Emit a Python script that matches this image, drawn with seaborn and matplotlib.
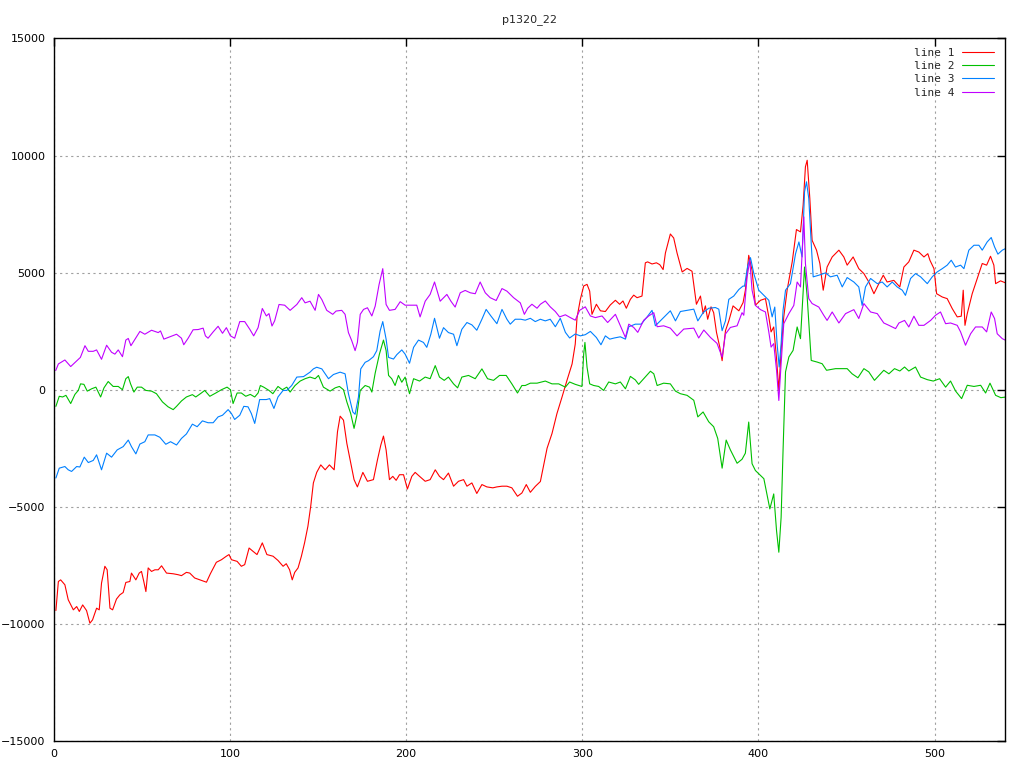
import matplotlib
matplotlib.use("Agg")
import matplotlib.pyplot as plt
import seaborn as sns

# line 1 (red)
x1 = [1.1, 2.5, 3.8, 6.2, 8.1, 11, 12.9, 14.4, 16.3, 18.5, 20.4, 21.9, 24.2, 25.7, 27, 28.9, 30.2, 31.8,
      33.3, 35.5, 37.4, 39.3, 40.8, 43.1, 44, 46.5, 48.4, 49.7, 51, 52.2, 53.5, 55.4, 57.3, 59.2, 61.1,
      63.9, 67.7, 70.5, 72.4, 75.2, 77.1, 79.9, 82.8, 86.6, 88.8, 92.2, 95.1, 97.9, 99.4, 100.8, 104,
      106.4, 108.3, 110.8, 113, 115.3, 118.3, 120.9, 124.4, 127.2, 130.1, 131.9, 133.8, 135.3, 136.7,
      138.6, 140.5, 142.3, 144.2, 145.8, 147.3, 149.2, 151.5, 154, 156.4, 159.1, 161, 162.5, 164.4,
      166.3, 168.5, 170.4, 172.3, 175.4, 178, 181.4, 183.7, 185.6, 187.1, 188.6, 190.5, 192.4, 194.3,
      196.2, 198.5, 200.7, 203.2, 205.1, 207.6, 210.8, 213.6, 216.5, 218.9, 221.2, 224, 226.9, 229.7,
      232.6, 234.5, 237.3, 240.1, 243, 245.8, 249.2, 251.5, 254.4, 257.2, 260, 263.2, 265.7, 268.2,
      270.5, 273.3, 276.2, 278.1, 280, 282.8, 285.6, 288.5, 291.3, 294.2, 296, 297, 298.9, 300.8,
      302.7, 304.2, 305.5, 308, 310.3, 313.1, 315.9, 318.8, 321.2, 323.1, 325, 327.3, 329.2, 331.1,
      333.9, 335.8, 337.1, 339.6, 342.1, 344, 345.9, 347.2, 350, 351.9, 353.8, 356.7, 359.5, 362.3,
      364.8, 367.1, 368.6, 369.9, 371.2, 373.1, 374.6, 376.2, 378.1, 379.4, 381.3, 383.2, 385.6,
      388.9, 391.3, 392.6, 394.5, 396.4, 398.3, 401.2, 404, 405.9, 407.2, 408.7, 410.3, 411.6, 412.9,
      414.4, 416.3, 419.2, 421.6, 423.9, 425.4, 426.7, 427.7, 429.2, 430.5, 433, 434.9, 436.8, 439,
      441.9, 445.7, 448.5, 450.4, 453.8, 457, 459.9, 462.7, 465.6, 468.4, 470.9, 473.1, 476.9, 480.3,
      482.6, 485.4, 488.3, 491.1, 494, 496.2, 497.4, 499.7, 501.2, 504.4, 507.2, 510.1, 512.9, 515.2,
      516.3, 517.3, 518.6, 521.4, 524.3, 527.1, 529.6, 531.8, 533.7, 534.7, 537.5, 540.4]
y1 = [-9430, -8190, -8120, -8330, -8970, -9400, -9260, -9470, -9190, -9430, -9970, -9830, -9330, -9400,
      -8260, -7540, -7690, -9330, -9400, -8940, -8760, -8660, -8230, -8190, -7830, -8120, -7830, -7760,
      -8190, -8620, -7610, -7760, -7690, -7690, -7520, -7830, -7860, -7900, -7940, -7800, -7830, -8040,
      -8120, -8220, -7860, -7370, -7260, -7110, -7040, -7260, -7330, -7540, -7470, -6760, -6900, -7040,
      -6540, -7040, -7110, -7290, -7540, -7430, -7690, -8120, -7800, -7610, -7110, -6540, -5830, -4970,
      -3980, -3530, -3210, -3420, -3210, -3420, -1790, -1130, -1300, -2290, -3130, -3840, -4150, -3530,
      -3910, -3840, -2990, -2360, -1980, -2570, -3840, -3700, -3870, -3630, -3630, -4240, -3700, -3530,
      -3700, -3910, -3840, -3420, -3700, -3840, -3560, -4120, -3910, -3840, -4120, -3980, -4430, -4050,
      -4150, -4190, -4150, -4120, -4120, -4190, -4550, -4410, -4050, -4380, -4130, -3920, -3210, -2500,
      -1870, -1020, -310, 400, 1100, 1950, 3080, 3860, 4430, 4500, 4210, 3220, 3650, 3370, 3340, 3620,
      3820, 3650, 3790, 3480, 3860, 4040, 3930, 4000, 5420, 5460, 5370, 5420, 5340, 5130, 5840, 6650,
      6480, 5840, 5030, 5180, 5060, 3650, 4000, 3250, 3580, 3010, 3540, 3290, 2450, 1810, 1240, 2520,
      2940, 3580, 3370, 3720, 4250, 5740, 5100, 3610, 3820, 3890, 3110, 2470, 2680, 1330, -30, 1680,
      3110, 4250, 5460, 6840, 6740, 7880, 9520, 9800, 8170, 6380, 5960, 5390, 4250, 5240, 5670, 5960,
      5670, 5320, 5670, 5170, 4960, 4600, 4100, 4530, 4890, 4600, 4670, 4390, 5240, 5460, 5960, 5880,
      5670, 5810, 5530, 5170, 4100, 3960, 3890, 3460, 3110, 3140, 4250, 2750, 3250, 4100, 4750, 5390,
      5320, 5700, 5320, 4530, 4650, 4560]

# line 2 (green)
x2 = [1.1, 3, 4.9, 6.8, 9.5, 11.9, 13.8, 15.1, 17, 18.9, 21.4, 23.8, 26.5, 28.4, 30.8, 33.6, 36.5, 38.9,
      40.8, 42.2, 43.5, 45.4, 47.3, 49.7, 52.2, 55.4, 58.2, 61.6, 64.8, 67.7, 69.6, 72.4, 75.2, 78.6,
      80.5, 83.7, 85.6, 88.5, 91.9, 95.1, 98.3, 100.2, 101.7, 104, 106.4, 108.9, 111.5, 114, 115.9,
      117.2, 119.1, 122.1, 124.3, 127.2, 129.7, 132.2, 134.1, 136.9, 139.8, 142.6, 145.4, 148.3, 150.2,
      153, 156.8, 159.7, 162.1, 164.4, 166.3, 168.5, 170.4, 172, 173.9, 176.7, 179.2, 180.5, 182.4,
      184.8, 187.1, 188.6, 190, 191.8, 193.7, 195.6, 197.5, 199.4, 201.9, 204.2, 207.6, 210.8, 213.6,
      216.5, 218.9, 221.6, 224, 226.9, 229.2, 231.6, 235.4, 239.2, 243, 246.2, 249.6, 253, 256.8, 260,
      263.2, 265.7, 267.6, 270.5, 274.3, 279, 282.8, 286.6, 290.4, 292.8, 296, 299.8, 300.8, 301.5,
      302.7, 304.2, 306.5, 309.3, 312.1, 315, 318.8, 321.6, 324.5, 327.3, 330.1, 332, 334.9, 338.7,
      340.6, 342.5, 346.2, 350, 352.9, 355.7, 359.5, 363.3, 365.6, 368.6, 371.8, 374.6, 376.9, 379.4,
      381.7, 384.1, 387.9, 390.7, 392.6, 394.5, 396.4, 398.3, 403.1, 406.5, 408.7, 410.3, 411.6, 412.9,
      414, 415.4, 417.3, 419.7, 422, 423.9, 426.2, 427.7, 430, 433.4, 436.2, 438.7, 443.8, 450.4,
      453.2, 456.5, 459.9, 462.7, 465.9, 471.2, 474.1, 477.3, 480.3, 483, 485.4, 489.2, 492.1, 495.9,
      499.3, 502.9, 506.3, 509.1, 512, 515.4, 518.6, 522.4, 526.2, 529, 531.5, 534.7, 537.7, 540.6]
y2 = [-710, -280, -310, -240, -590, -200, -30, 250, 230, -60, 40, 110, -310, 80, 350, 140, 140, 0, 470,
      560, 250, -100, 110, 110, -30, -60, -170, -520, -730, -850, -710, -480, -310, -210, -310, -140,
      -30, -280, -140, 0, 110, 0, -590, -140, -140, -280, -200, -310, -140, 180, 110, -30, -170, 140, 0,
      110, -100, 180, 370, 470, 540, 470, 610, 110, -60, 80, 140, 0, -520, -1020, -1650, -1090, -30,
      180, 110, -100, 710, 1520, 2120, 1670, 610, 470, 180, 610, 320, 540, -170, 470, 370, 540, 470,
      1030, 540, 400, 540, 250, 80, 540, 610, 470, 890, 470, 400, 610, 610, 250, -140, 180, 180, 280,
      280, 370, 250, 250, 110, 330, 230, 140, 1530, 2020, 960, 250, 180, 140, -30, 330, 250, 330, 40,
      570, 420, 230, 470, 790, 680, 180, 280, 250, -60, -170, -240, -450, -1160, -950, -1370, -1580,
      -2080, -3350, -2150, -2570, -3140, -2970, -2710, -1380, -3160, -3450, -3800, -5090, -4450, -6020,
      -6940, -5450, -2590, 760, 1400, 1680, 2680, 2180, 5240, 3960, 1250, 1180, 1110, 830, 900, 900,
      680, 510, 900, 760, 400, 830, 680, 900, 800, 970, 800, 970, 540, 430, 370, 470, 110, 370, -60,
      -380, 190, 140, 190, -140, 280, -240, -340, -310]

# line 3 (blue)
x3 = [1.1, 3, 6.2, 8.1, 10, 12.9, 14.7, 17.2, 19.5, 22.3, 24.2, 27, 29.9, 32.7, 35.9, 39.3, 42.2, 44,
      46.5, 48.8, 51.6, 53.5, 57.3, 60.1, 63.5, 66.2, 69.6, 72.4, 75.2, 78.6, 81.3, 84.3, 87.5, 90.4,
      93.2, 95.7, 98.9, 100.8, 102.6, 105.5, 107.8, 110.2, 112.1, 114, 116.8, 120.6, 122.5, 124.9, 127.2,
      130.1, 132.2, 135, 137.9, 141.7, 145.4, 147.3, 149.2, 152.1, 155.9, 158.7, 162.5, 165.3, 167.2,
      169.7, 171, 172.9, 174.2, 176.7, 178.6, 181.4, 183.3, 185.2, 186.7, 188.6, 190, 192.8, 194.7,
      197.5, 199.4, 201.9, 204.2, 207, 209.8, 211.7, 214, 216.1, 218.9, 221.2, 224, 226.9, 228.8, 231.6,
      234.5, 237.3, 240.1, 243, 245.4, 248.1, 251.5, 254.4, 257.2, 259.1, 261.9, 265.1, 267.6, 270.5,
      273.3, 276.2, 279, 281.8, 284.7, 287.5, 290.4, 292.8, 296, 298.9, 301.7, 304.6, 308, 310.6, 313.1,
      315.6, 318.2, 321.6, 324.5, 326.4, 330.1, 333.4, 336.8, 339.6, 341.5, 344.3, 347.8, 350, 352.9,
      355.7, 359.5, 363.3, 365.6, 368.6, 371.8, 375.6, 377.5, 379.4, 381.3, 383.2, 386, 388.9, 391.3,
      392.1, 394, 395.5, 397.4, 400.2, 403.1, 405.9, 407.8, 409.3, 410.6, 411.8, 412.9, 414, 415.4,
      418.2, 421.1, 423, 424.8, 426.2, 427.3, 428.6, 430, 431.1, 434.3, 438.1, 440.9, 444.7, 447.6,
      450.4, 454.2, 457, 458.9, 460.8, 463.7, 467.5, 470.3, 473.1, 476, 478.8, 481.7, 483.5, 486.4,
      489.2, 492.1, 495.9, 498.7, 501.5, 504.4, 507.2, 509.5, 511.9, 514.8, 516.7, 519.5, 522.4, 525.2,
      527.1, 529.9, 532.2, 534.1, 536, 538.5, 540.4]
y3 = [-3770, -3350, -3280, -3420, -3490, -3280, -3300, -2880, -3110, -3020, -2780, -3420, -2710, -2880,
      -2570, -2430, -2150, -2430, -2740, -2320, -2220, -1930, -1930, -2030, -2330, -2220, -2360, -2080,
      -1890, -1470, -1580, -1330, -1410, -1410, -1160, -1090, -850, -1020, -1270, -1090, -710, -730,
      -1020, -1440, -420, -420, -380, -800, -310, -30, -30, 180, 540, 560, 750, 890, 960, 890, 470, 650,
      750, 680, -170, -950, -1050, -310, 890, 1170, 1240, 1410, 1670, 2510, 2910, 2160, 1380, 1310,
      1500, 1700, 1520, 1130, 1810, 2120, 2020, 1810, 2370, 3050, 2200, 2650, 2440, 2370, 1880, 2580,
      2870, 2770, 2540, 3010, 3430, 3150, 2820, 3430, 3010, 2800, 3010, 3010, 2970, 3050, 2910, 3010,
      2940, 3010, 2690, 3050, 2450, 2210, 2380, 2300, 2350, 2490, 2230, 1920, 2300, 2160, 2210, 2260,
      2160, 2690, 2800, 2800, 3110, 3390, 2730, 2940, 3200, 3370, 2940, 3340, 3390, 3440, 2940, 3290,
      3480, 3510, 3440, 2520, 2940, 3860, 4000, 4280, 4430, 4420, 5320, 5640, 4960, 4250, 4030, 3820,
      3110, 3530, 1970, 970, 1970, 3390, 4250, 4530, 5810, 6310, 5670, 8450, 8880, 8170, 6240, 4820,
      4890, 4990, 4820, 4890, 4390, 4790, 4600, 4390, 3600, 4390, 4750, 4530, 4600, 4390, 4600, 4390,
      4250, 4030, 4750, 4960, 4820, 4530, 4820, 5030, 5170, 5320, 5530, 5240, 5320, 5170, 5960, 6170,
      6170, 5960, 6310, 6500, 6100, 5790, 5960, 6030]

# line 4 (purple)
x4 = [1, 2.5, 6.2, 9.5, 13, 15, 17.6, 19.5, 22.3, 24.2, 27, 29.9, 32.7, 34.6, 36.5, 38.9, 40.8, 42.2,
      43.7, 46.9, 48.8, 51.6, 55.4, 59.2, 60.5, 62.4, 65.8, 69.6, 72.4, 73.7, 76.2, 79, 81.9, 84.7, 86,
      87.5, 90.4, 93.2, 95.7, 97.9, 100.2, 102.6, 105.5, 108.3, 111.2, 113.4, 115.9, 118.3, 120.6, 122.1,
      123.8, 125.3, 127.8, 131, 134.1, 137.9, 140.7, 142.6, 145.4, 148.3, 150.2, 152.1, 154.9, 158.3,
      160.2, 163.4, 165.3, 167.2, 169.1, 171, 172.3, 173.9, 175.8, 178, 180.5, 182.4, 184.6, 186.7,
      188.6, 190.5, 193.7, 196.6, 199.4, 202.3, 206, 207.9, 210.8, 213.6, 216.1, 219.3, 223.1, 225.4,
      227.8, 230.7, 233.5, 236.4, 239.2, 242, 244.9, 247.7, 251.1, 254.4, 257.2, 261, 264.8, 267.1,
      269, 271.4, 274.3, 276.2, 279, 281.8, 284.7, 287.1, 290.4, 293.2, 296, 298.5, 301.7, 304.6, 307.4,
      311.2, 314.4, 318.8, 321.6, 324.5, 326.4, 329.2, 331.5, 334.9, 337.7, 340.6, 342.5, 346.2, 350,
      353.8, 357.6, 363.3, 366.1, 369, 372.8, 376.5, 379.4, 381.3, 384.1, 387.9, 390.7, 391.7, 393.6,
      395.1, 396.4, 398.3, 401.2, 404, 405.9, 407.2, 408.7, 410.3, 411.6, 412.9, 414.4, 417.3, 420.1,
      422, 423.9, 425.8, 426.7, 428.6, 430.5, 434.3, 437.1, 439, 441.9, 445.7, 449.5, 454.2, 457, 459.9,
      463.7, 467.5, 471.2, 474.1, 477.9, 479.8, 483, 485.4, 488.3, 491.1, 494, 497.8, 500.6, 503.4,
      506.3, 509.1, 512.9, 514.8, 517.6, 520.5, 523.3, 527.1, 529.6, 532.2, 534.1, 535.6, 538.5, 540.4]
y4 = [820, 1100, 1270, 990, 1240, 1380, 1880, 1640, 1640, 1700, 1300, 1900, 1600, 1520, 1700, 1410, 2120,
      2190, 1880, 2260, 2490, 2370, 2540, 2440, 2510, 2160, 2260, 2370, 2200, 1920, 2200, 2560, 2570,
      2630, 2300, 2200, 2470, 2710, 2410, 2650, 2300, 2200, 2910, 2910, 2580, 2300, 2650, 3470, 3150,
      3250, 2720, 2940, 3640, 3610, 3390, 3640, 3930, 3710, 3780, 3390, 4070, 3850, 3390, 3220, 3360,
      3390, 3220, 2440, 2090, 1670, 2020, 3220, 3430, 3500, 3150, 3570, 4490, 5170, 3640, 3390, 3430,
      3760, 3610, 3610, 3610, 3110, 3780, 4070, 4600, 3780, 4070, 3780, 3530, 4140, 4240, 4140, 4100,
      4600, 4140, 3930, 3810, 4320, 4210, 3930, 3710, 3220, 3480, 3650, 3480, 3650, 3790, 3540, 3340,
      3110, 3200, 3080, 2970, 3390, 3540, 3150, 3080, 3150, 2870, 3220, 2730, 2230, 2800, 2660, 2450,
      2970, 3150, 3290, 2690, 2730, 2630, 2300, 2590, 2630, 2210, 2550, 2230, 1980, 1390, 2380, 2660,
      2730, 3290, 3180, 4820, 5530, 4250, 3600, 3420, 3320, 2470, 1820, 1970, 830, -460, 1110, 2820,
      3250, 3600, 4600, 4390, 7380, 5390, 3890, 3680, 3530, 3180, 2960, 3320, 2850, 3250, 3420, 3040,
      3680, 3320, 3250, 2850, 2750, 2610, 2850, 2960, 2680, 3140, 2750, 2750, 2960, 3180, 3320, 2820,
      2850, 2750, 2470, 1900, 2390, 2680, 2680, 2470, 3320, 3040, 2390, 2180, 2110]

series = [("line 1", x1, y1, "#ff0000"), ("line 2", x2, y2, "#00c000"),
          ("line 3", x3, y3, "#0080ff"), ("line 4", x4, y4, "#c000ff")]

sns.set_theme(style="white")
plt.rcParams['font.family'] = ['DejaVu Sans']

fig = plt.figure(figsize=(10.24, 7.68), dpi=100)
ax = fig.add_axes([0.0527, 0.0352, 0.9287, 0.9147])

for label, xs, ys, color in series:
    sns.lineplot(x=xs, y=ys, ax=ax, color=color, linewidth=0.8, label=label,
                 sort=False, estimator=None)

ax.set_xlim(0, 540)
ax.set_ylim(-15000, 15000)
ax.set_xticks(range(0, 501, 100))
ax.set_yticks(range(-15000, 15001, 5000))
ax.tick_params(direction="in", length=6, width=1, top=True, right=True,
               labelsize=8, colors="black", pad=6)
ax.grid(True, color="#a0a0a0", linestyle=(0, (2, 3)), linewidth=0.8)
ax.set_axisbelow(True)
for sp in ax.spines.values():
    sp.set_color("black")
    sp.set_linewidth(1)
ax.set_title("p1320_22", fontsize=8, pad=12)

leg = ax.legend(loc="upper right", bbox_to_anchor=(0.988, 0.987), frameon=False,
                markerfirst=False, prop={"family": "DejaVu Sans Mono", "size": 8},
                handlelength=2.8, labelspacing=0.3, borderaxespad=0, borderpad=0,
                handletextpad=0.7)

fig.savefig("out.png", dpi=100, facecolor="white")
